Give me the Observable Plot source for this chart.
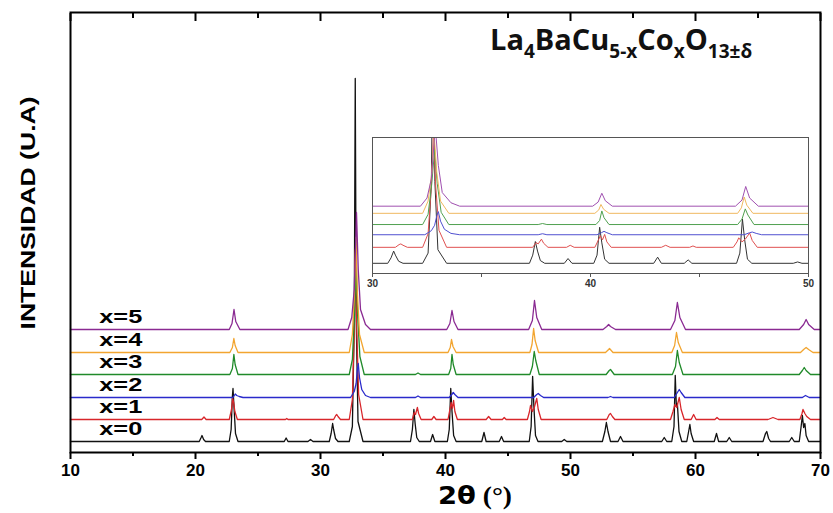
<!DOCTYPE html>
<html><head><meta charset="utf-8">
<script src="https://cdn.jsdelivr.net/npm/d3@7"></script>
<script src="https://cdn.jsdelivr.net/npm/@observablehq/plot@0.6"></script>
<style>
body{margin:0;background:#fff;}
#wrap{position:relative;width:833px;height:513px;overflow:hidden;}
#inset{position:absolute;left:362px;top:135px;}
</style></head><body><div id="wrap"><div id="main"></div><div id="inset"></div></div>
<script>
// ---- data (2θ in degrees, intensity in arbitrary units) ----
const labels = ["x=0","x=1","x=2","x=3","x=4","x=5"];
const colors = ["#111111","#d8262b","#2a2acb","#208a2a","#f2a530","#8a2a92"];
const insetColors = ["#333333","#e05050","#5050d0","#50a050","#f0b860","#a050b0"];
const offsets = [0, 22, 44, 67, 89, 112];
const insetOffsets = [0, 23.5, 42, 57, 73.5, 84];
const majorTicks = [10,20,30,40,50,60,70];
const minorTicks = [15,25,35,45,55,65];
const insetTicks = [30,40,50];
const insetMinor = [35,45];

const s0 = [[10,0],[20.3,0],[20.45,4],[20.52,6],[20.65,2],[20.8,0],
[22.7,0],[22.85,12],[22.95,45],[23.0,53],[23.1,30],[23.2,8],[23.4,0],
[27.1,0],[27.25,3.5],[27.4,0],[29.0,0],[29.2,2],[29.4,0],
[30.7,0],[30.85,8],[30.97,18],[31.05,12],[31.2,3],[31.4,0],
[32.3,0],[32.55,15],[32.7,120],[32.78,363],[32.86,120],[33.0,20],[33.4,0],
[37.2,0],[37.35,12],[37.47,32],[37.57,18],[37.7,4],[37.9,0],
[38.8,0],[38.97,7],[39.15,0],
[40.15,0],[40.3,12],[40.42,53],[40.52,30],[40.65,6],[40.85,0],
[42.9,0],[43.08,9],[43.25,0],[44.3,0],[44.48,5],[44.65,0],
[46.7,0],[46.85,15],[46.97,65],[47.07,35],[47.2,6],[47.4,0],
[49.3,0],[49.5,2],[49.7,0],
[52.55,0],[52.75,10],[52.87,19],[53.0,10],[53.2,0],
[53.8,0],[54.0,5],[54.2,0],[57.3,0],[57.5,4],[57.7,0],
[58.1,0],[58.28,15],[58.38,66],[58.47,35],[58.55,38],[58.68,10],[58.9,0],
[59.3,0],[59.45,10],[59.55,17],[59.65,8],[59.85,0],
[61.5,0],[61.68,8],[61.85,0],[62.5,0],[62.7,4],[62.9,0],
[65.4,0],[65.6,8],[65.7,10],[65.85,3],[66.0,0],
[67.5,0],[67.7,4],[67.9,0],
[68.3,0],[68.45,15],[68.55,26],[68.65,14],[68.75,18],[68.85,6],[69.05,0],[70,0]];

const s1 = [[10,0],[20.5,0],[20.68,2.5],[20.85,0],
[22.7,0],[22.88,10],[22.97,21],[23.05,17],[23.15,8],[23.35,0],
[27.2,0],[27.3,1],[27.4,0],
[31.05,0],[31.22,4],[31.3,5],[31.4,3],[31.6,0],
[32.3,0],[32.55,20],[32.7,90],[32.8,170],[32.9,90],[33.05,25],[33.4,0],
[37.35,0],[37.5,7],[37.6,5],[37.75,12],[37.85,6],[38.05,0],
[38.9,0],[39.07,3],[39.25,0],
[40.2,0],[40.38,12],[40.45,17],[40.55,11],[40.65,19],[40.75,8],[40.95,0],
[43.25,0],[43.45,3],[43.65,0],[44.55,0],[44.7,2],[44.85,0],
[46.55,0],[46.72,8],[46.8,14],[46.95,8],[47.1,12],[47.3,21],[47.42,10],[47.65,0],
[52.9,0],[53.1,5],[53.2,6],[53.35,3],[53.55,0],
[58.0,0],[58.2,8],[58.35,15],[58.5,12],[58.7,22],[58.85,10],[59.1,0],
[59.65,0],[59.85,5],[60.05,0],[61.55,0],[61.72,2],[61.9,0],
[65.8,0],[66.2,2],[66.6,0],
[68.35,0],[68.52,6],[68.6,10],[68.75,6],[68.9,3],[69.2,0],[70,0]];

const s2 = [[10,0],[23.0,0],[23.18,3.5],[23.3,2],[23.5,1],[23.8,0],
[32.4,0],[32.7,6],[32.85,14],[32.95,28],[33.02,34],[33.12,20],[33.3,8],[33.6,2],[34.0,0],
[37.6,0],[37.8,1.5],[38.0,0],
[40.3,0],[40.5,3],[40.62,5],[40.75,3],[41.0,0],
[47.05,0],[47.3,3],[47.42,4],[47.6,2],[47.85,0],
[53.0,0],[53.2,1],[53.4,0],
[58.3,0],[58.55,5],[58.7,8],[58.85,5],[59.15,0],
[68.55,0],[68.8,2],[69.1,0],[70,0]];

const s3 = [[10,0],[22.75,0],[22.95,6],[23.07,20],[23.17,10],[23.4,0],
[32.3,0],[32.55,15],[32.72,60],[32.85,110],[32.97,60],[33.15,18],[33.5,0],
[37.6,0],[37.8,1.5],[38.0,0],
[40.25,0],[40.42,6],[40.52,20],[40.62,10],[40.85,0],
[46.75,0],[46.95,8],[47.1,23],[47.22,14],[47.5,0],
[52.85,0],[53.1,4],[53.2,5],[53.5,0],
[58.15,0],[58.4,8],[58.55,24],[58.7,12],[59.0,0],
[68.3,0],[68.55,4],[68.7,7],[68.85,4],[69.2,0],[70,0]];

const s4 = [[10,0],[22.75,0],[22.95,5],[23.07,14],[23.17,7],[23.4,0],
[32.3,0],[32.55,18],[32.72,60],[32.83,115],[32.95,60],[33.12,18],[33.5,0],
[40.2,0],[40.38,5],[40.48,13],[40.6,6],[40.85,0],
[46.75,0],[46.92,8],[47.05,24],[47.17,12],[47.45,0],
[52.8,0],[53.05,3],[53.12,4],[53.4,0],
[58.1,0],[58.33,7],[58.48,20],[58.62,10],[58.95,0],
[68.4,0],[68.65,3],[68.85,5],[69.05,3],[69.4,0],[70,0]];

const s5 = [[10,0],[22.7,0],[22.92,6],[23.08,20],[23.22,8],[23.55,0],
[32.2,0],[32.5,12],[32.7,40],[32.88,117],[33.02,60],[33.2,20],[33.6,5],[34.0,0],
[40.1,0],[40.35,6],[40.52,19],[40.68,8],[41.0,0],
[46.65,0],[46.95,9],[47.12,29],[47.3,12],[47.7,0],
[52.6,0],[52.9,3],[53.05,5],[53.2,3],[53.6,0],
[58.0,0],[58.35,9],[58.55,27],[58.75,12],[59.2,0],
[68.3,0],[68.65,5],[68.85,10],[69.05,5],[69.5,0],[70,0]];

const series = [s0,s1,s2,s3,s4,s5];

// ---- main chart ----
const lineMarks = series.map((s,i) => Plot.line(s, {
  x: d => d[0], y: d => d[1] + offsets[i], stroke: colors[i], strokeWidth: 1.3
}));
const labelRows = labels.map((l,i)=>({l, y: offsets[i]}));

const main = Plot.plot({
  width: 833, height: 513,
  marginLeft: 70, marginRight: 13, marginTop: 12, marginBottom: 61,
  style: {fontFamily: "'Liberation Sans', Arial, sans-serif", background: "transparent", color: "#000"},
  x: {domain: [10,70]},
  y: {domain: [-11,429], axis: null},
  marks: [
    ...lineMarks,
    Plot.text(labelRows, {x: 12.3, y: d => d.y + 13, text: "l", textAnchor: "start",
      fontSize: 19, fontWeight: "bold", fill: "#000"}),
    Plot.frame({stroke: "#000", strokeWidth: 2}),
    Plot.axisX(majorTicks, {anchor: "bottom", tickSize: 7, tickPadding: 4, strokeWidth: 2,
      fontSize: 17, fontWeight: "bold", label: null, tickFormat: d => String(d)}),
    Plot.axisX(minorTicks, {anchor: "bottom", tickSize: 4, strokeWidth: 2, text: null, label: null}),
    Plot.axisX(majorTicks, {anchor: "top", tickSize: -8, strokeWidth: 2, text: null, label: null}),
    Plot.axisX(minorTicks, {anchor: "top", tickSize: -5, strokeWidth: 2, text: null, label: null})
  ]
});
document.getElementById("main").appendChild(main);

const msvg = d3.select(main);
msvg.selectAll("text").filter(function(){return /^x=\d$/.test(this.textContent);})
  .attr("textLength", 43).attr("lengthAdjust", "spacingAndGlyphs");

// y axis title
msvg.append("text")
  .attr("transform", "translate(35,213) rotate(-90)")
  .attr("text-anchor", "middle")
  .attr("font-family", "'Liberation Sans', Arial, sans-serif")
  .attr("font-weight", "bold").attr("font-size", 21)
  .attr("textLength", 233).attr("lengthAdjust", "spacingAndGlyphs")
  .text("INTENSIDAD (U.A)");

// x axis title
const xt = msvg.append("text").attr("x", 438).attr("y", 504)
  .attr("text-anchor", "start")
  .attr("font-weight", "bold").attr("font-size", 25)
  .attr("textLength", 74).attr("lengthAdjust", "spacingAndGlyphs");
xt.append("tspan").attr("font-family", "'DejaVu Sans', sans-serif").text("2θ");
xt.append("tspan").attr("font-family", "'Liberation Serif', serif").text(" (°)");

// compound title
const tt = msvg.append("text").attr("x", 490).attr("y", 50)
  .attr("text-anchor", "start")
  .attr("font-family", "'Open Sans', sans-serif").attr("font-weight", "bold").attr("font-size", 29)
  .attr("fill", "#111");
const parts = [["La",0],["4",1],["BaCu",0],["5-x",1],["Co",0],["x",1],["O",0],["13±δ",1]];
let sub = false;
for (const [txt, s] of parts) {
  const ts = tt.append("tspan").text(txt);
  if (s && !sub) { ts.attr("dy", 8).attr("font-size", 19); sub = true; }
  else if (s) { ts.attr("font-size", 19); }
  else if (!s && sub) { ts.attr("dy", -8); sub = false; }
}

// ---- inset ----
const insetLines = series.map((s,i) => Plot.line(s, {
  x: d => d[0], y: d => d[1] + insetOffsets[i], stroke: insetColors[i], strokeWidth: 1, clip: true
}));
const inset = Plot.plot({
  width: 456, height: 158,
  marginLeft: 10, marginRight: 10, marginTop: 2, marginBottom: 20,
  style: {fontFamily: "'Liberation Sans', Arial, sans-serif", background: "transparent", color: "#333"},
  x: {domain: [30,50]},
  y: {domain: [-15,185], axis: null},
  marks: [
    ...insetLines,
    Plot.frame({stroke: "#555", strokeWidth: 1}),
    Plot.axisX(insetTicks, {anchor: "bottom", tickSize: 4, tickPadding: 2, stroke: "#555",
      fontSize: 10, fontWeight: "bold", label: null, tickFormat: d => String(d)}),
    Plot.axisX(insetMinor, {anchor: "bottom", tickSize: 4, stroke: "#555", text: null, label: null})
  ]
});
document.getElementById("inset").appendChild(inset);
</script>
</body></html>
